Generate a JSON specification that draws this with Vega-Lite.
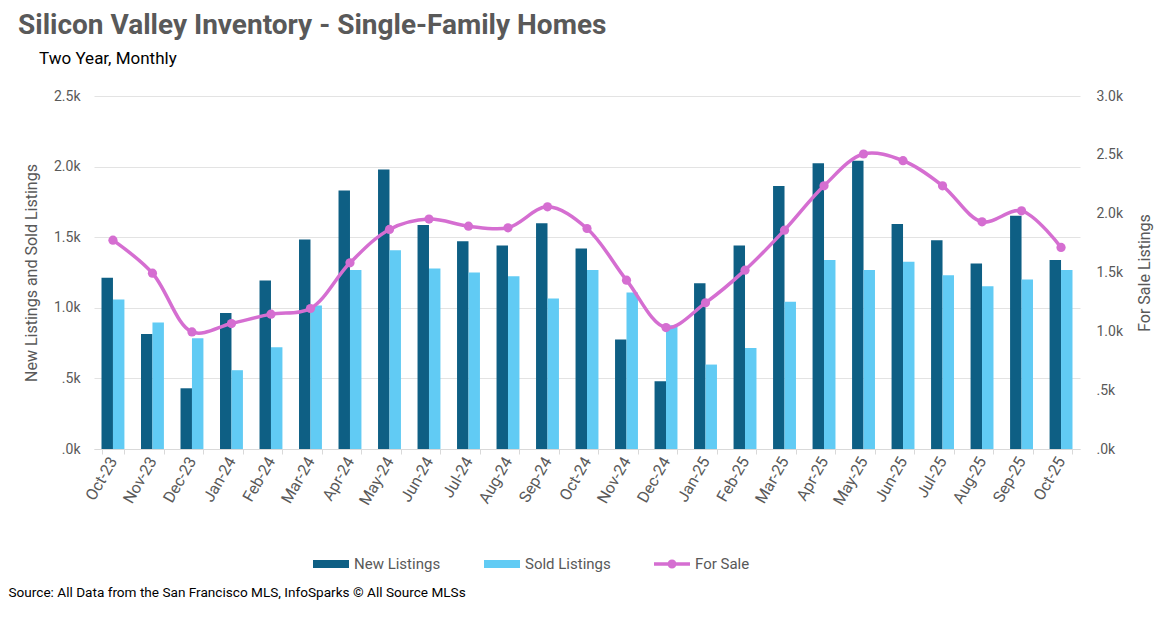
{
  "$schema": "https://vega.github.io/schema/vega-lite/v6.json",
  "width": 986,
  "height": 353,
  "autosize": {"type": "none"},
  "padding": {"left": 94, "top": 96, "right": 90, "bottom": 169},
  "background": "white",
  "config": {"font": "Roboto", "view": {"stroke": null}},
  "title": {
    "text": "Silicon Valley Inventory - Single-Family Homes",
    "subtitle": "\u200b\u00a0\u00a0\u00a0\u00a0\u00a0Two Year, Monthly",
    "anchor": "start",
    "frame": "group",
    "dx": -76,
    "offset": 22,
    "fontSize": 28,
    "fontWeight": "bold",
    "color": "#595959",
    "subtitleFontSize": 17,
    "subtitleColor": "#000000",
    "subtitlePadding": 11
  },
  "datasets": {
    "bars": [
      {"month": "Oct-23", "series": "New Listings", "value": 1212},
      {"month": "Nov-23", "series": "New Listings", "value": 815},
      {"month": "Dec-23", "series": "New Listings", "value": 430},
      {"month": "Jan-24", "series": "New Listings", "value": 964},
      {"month": "Feb-24", "series": "New Listings", "value": 1194},
      {"month": "Mar-24", "series": "New Listings", "value": 1484},
      {"month": "Apr-24", "series": "New Listings", "value": 1831},
      {"month": "May-24", "series": "New Listings", "value": 1980},
      {"month": "Jun-24", "series": "New Listings", "value": 1586},
      {"month": "Jul-24", "series": "New Listings", "value": 1472},
      {"month": "Aug-24", "series": "New Listings", "value": 1442},
      {"month": "Sep-24", "series": "New Listings", "value": 1598},
      {"month": "Oct-24", "series": "New Listings", "value": 1420},
      {"month": "Nov-24", "series": "New Listings", "value": 775},
      {"month": "Dec-24", "series": "New Listings", "value": 480},
      {"month": "Jan-25", "series": "New Listings", "value": 1174},
      {"month": "Feb-25", "series": "New Listings", "value": 1442},
      {"month": "Mar-25", "series": "New Listings", "value": 1862},
      {"month": "Apr-25", "series": "New Listings", "value": 2023},
      {"month": "May-25", "series": "New Listings", "value": 2041},
      {"month": "Jun-25", "series": "New Listings", "value": 1593},
      {"month": "Jul-25", "series": "New Listings", "value": 1479},
      {"month": "Aug-25", "series": "New Listings", "value": 1314},
      {"month": "Sep-25", "series": "New Listings", "value": 1652},
      {"month": "Oct-25", "series": "New Listings", "value": 1338},
      {"month": "Oct-23", "series": "Sold Listings", "value": 1059},
      {"month": "Nov-23", "series": "Sold Listings", "value": 896},
      {"month": "Dec-23", "series": "Sold Listings", "value": 785},
      {"month": "Jan-24", "series": "Sold Listings", "value": 558},
      {"month": "Feb-24", "series": "Sold Listings", "value": 721},
      {"month": "Mar-24", "series": "Sold Listings", "value": 1016},
      {"month": "Apr-24", "series": "Sold Listings", "value": 1267},
      {"month": "May-24", "series": "Sold Listings", "value": 1408},
      {"month": "Jun-24", "series": "Sold Listings", "value": 1279},
      {"month": "Jul-24", "series": "Sold Listings", "value": 1250},
      {"month": "Aug-24", "series": "Sold Listings", "value": 1224},
      {"month": "Sep-24", "series": "Sold Listings", "value": 1066},
      {"month": "Oct-24", "series": "Sold Listings", "value": 1267},
      {"month": "Nov-24", "series": "Sold Listings", "value": 1108},
      {"month": "Dec-24", "series": "Sold Listings", "value": 877},
      {"month": "Jan-25", "series": "Sold Listings", "value": 598},
      {"month": "Feb-25", "series": "Sold Listings", "value": 716},
      {"month": "Mar-25", "series": "Sold Listings", "value": 1042},
      {"month": "Apr-25", "series": "Sold Listings", "value": 1338},
      {"month": "May-25", "series": "Sold Listings", "value": 1267},
      {"month": "Jun-25", "series": "Sold Listings", "value": 1326},
      {"month": "Jul-25", "series": "Sold Listings", "value": 1231},
      {"month": "Aug-25", "series": "Sold Listings", "value": 1153},
      {"month": "Sep-25", "series": "Sold Listings", "value": 1201},
      {"month": "Oct-25", "series": "Sold Listings", "value": 1267}
    ],
    "forSale": [
      {"month": "Oct-23", "series": "For Sale", "value": 1775},
      {"month": "Nov-23", "series": "For Sale", "value": 1494},
      {"month": "Dec-23", "series": "For Sale", "value": 995},
      {"month": "Jan-24", "series": "For Sale", "value": 1066},
      {"month": "Feb-24", "series": "For Sale", "value": 1146},
      {"month": "Mar-24", "series": "For Sale", "value": 1194},
      {"month": "Apr-24", "series": "For Sale", "value": 1582},
      {"month": "May-24", "series": "For Sale", "value": 1866},
      {"month": "Jun-24", "series": "For Sale", "value": 1954},
      {"month": "Jul-24", "series": "For Sale", "value": 1894},
      {"month": "Aug-24", "series": "For Sale", "value": 1880},
      {"month": "Sep-24", "series": "For Sale", "value": 2058},
      {"month": "Oct-24", "series": "For Sale", "value": 1874},
      {"month": "Nov-24", "series": "For Sale", "value": 1435},
      {"month": "Dec-24", "series": "For Sale", "value": 1032},
      {"month": "Jan-25", "series": "For Sale", "value": 1242},
      {"month": "Feb-25", "series": "For Sale", "value": 1520},
      {"month": "Mar-25", "series": "For Sale", "value": 1860},
      {"month": "Apr-25", "series": "For Sale", "value": 2237},
      {"month": "May-25", "series": "For Sale", "value": 2507},
      {"month": "Jun-25", "series": "For Sale", "value": 2450},
      {"month": "Jul-25", "series": "For Sale", "value": 2237},
      {"month": "Aug-25", "series": "For Sale", "value": 1931},
      {"month": "Sep-25", "series": "For Sale", "value": 2024},
      {"month": "Oct-25", "series": "For Sale", "value": 1713}
    ]
  },
  "layer": [
    {
      "data": {"name": "bars"},
      "mark": {"type": "bar"},
      "encoding": {
        "x": {
          "field": "month",
          "type": "nominal",
          "sort": ["Oct-23","Nov-23","Dec-23","Jan-24","Feb-24","Mar-24","Apr-24","May-24","Jun-24","Jul-24","Aug-24","Sep-24","Oct-24","Nov-24","Dec-24","Jan-25","Feb-25","Mar-25","Apr-25","May-25","Jun-25","Jul-25","Aug-25","Sep-25","Oct-25"],
          "scale": {"paddingInner": 0.42, "paddingOuter": 0.19},
          "axis": {
            "title": "Source: All Data from the San Francisco MLS, InfoSparks \u00a9 All Source MLSs",
            "titleAnchor": "start",
            "titleAlign": "left",
            "titleX": -86,
            "titleY": 147,
            "titleBaseline": "alphabetic",
            "titleFontSize": 13.6,
            "titleFontWeight": "normal",
            "titleColor": "#000000",
            "labelAngle": -60,
            "labelFontSize": 16,
            "labelColor": "#595959",
            "labelPadding": 4,
            "tickBand": "extent",
            "tickColor": "#d9d9d9",
            "tickSize": 5,
            "domainColor": "#d9d9d9",
            "grid": false
          }
        },
        "xOffset": {"field": "series", "type": "nominal", "sort": ["New Listings", "Sold Listings"]},
        "y": {
          "field": "value",
          "type": "quantitative",
          "scale": {"domain": [0, 2500]},
          "axis": {
            "title": "New Listings and Sold Listings",
            "titleFontSize": 16,
            "titleFontWeight": "normal",
            "titleColor": "#595959",
            "titlePadding": 14,
            "values": [0, 500, 1000, 1500, 2000, 2500],
            "labelExpr": "datum.value < 1000 ? '.' + format(datum.value / 100, 'd') + 'k' : format(datum.value / 1000, '.1f') + 'k'",
            "labelFontSize": 14,
            "labelColor": "#595959",
            "labelPadding": 14,
            "domain": false,
            "ticks": false,
            "grid": true,
            "gridColor": "#e3e3e3"
          }
        },
        "color": {
          "field": "series",
          "type": "nominal",
          "scale": {"domain": ["New Listings", "Sold Listings", "For Sale"], "range": ["#0E5F84", "#61CBF4", "#D56ED1"]},
          "legend": {
            "orient": "none",
            "legendX": 219,
            "legendY": 450,
            "direction": "horizontal",
            "title": null,
            "labelFontSize": 15,
            "labelColor": "#595959",
            "labelOffset": 5,
            "columnPadding": 43,
            "symbolSize": 1296,
            "encode": {
              "symbols": {
                "update": {
                  "shape": {"signal": "datum.value === 'For Sale' ? 'M-1,-0.1H1V0.1H-1Z M0.25,0A0.25,0.25 0 1,1 -0.25,0A0.25,0.25 0 1,1 0.25,0Z' : 'M-1,-0.22H1V0.22H-1Z'"},
                  "fill": {"signal": "scale('color', datum.value)"},
                  "strokeWidth": {"value": 0},
                  "opacity": {"value": 1}
                }
              }
            }
          }
        }
      }
    },
    {
      "data": {"name": "forSale"},
      "mark": {"type": "line", "interpolate": "catmull-rom", "strokeWidth": 3.5, "point": {"filled": true, "size": 85}},
      "encoding": {
        "x": {
          "field": "month",
          "type": "nominal",
          "sort": ["Oct-23","Nov-23","Dec-23","Jan-24","Feb-24","Mar-24","Apr-24","May-24","Jun-24","Jul-24","Aug-24","Sep-24","Oct-24","Nov-24","Dec-24","Jan-25","Feb-25","Mar-25","Apr-25","May-25","Jun-25","Jul-25","Aug-25","Sep-25","Oct-25"]
        },
        "y": {
          "field": "value",
          "type": "quantitative",
          "scale": {"domain": [0, 3000]},
          "axis": {
            "orient": "right",
            "title": "For Sale Listings",
            "titleAngle": 270,
            "titleFontSize": 16,
            "titleFontWeight": "normal",
            "titleColor": "#595959",
            "titlePadding": 30,
            "values": [0, 500, 1000, 1500, 2000, 2500, 3000],
            "labelExpr": "datum.value < 1000 ? '.' + format(datum.value / 100, 'd') + 'k' : format(datum.value / 1000, '.1f') + 'k'",
            "labelFontSize": 14,
            "labelColor": "#595959",
            "labelPadding": 16,
            "domain": false,
            "ticks": false,
            "grid": false
          }
        },
        "color": {"field": "series", "type": "nominal"}
      }
    }
  ],
  "resolve": {"scale": {"y": "independent"}}
}
